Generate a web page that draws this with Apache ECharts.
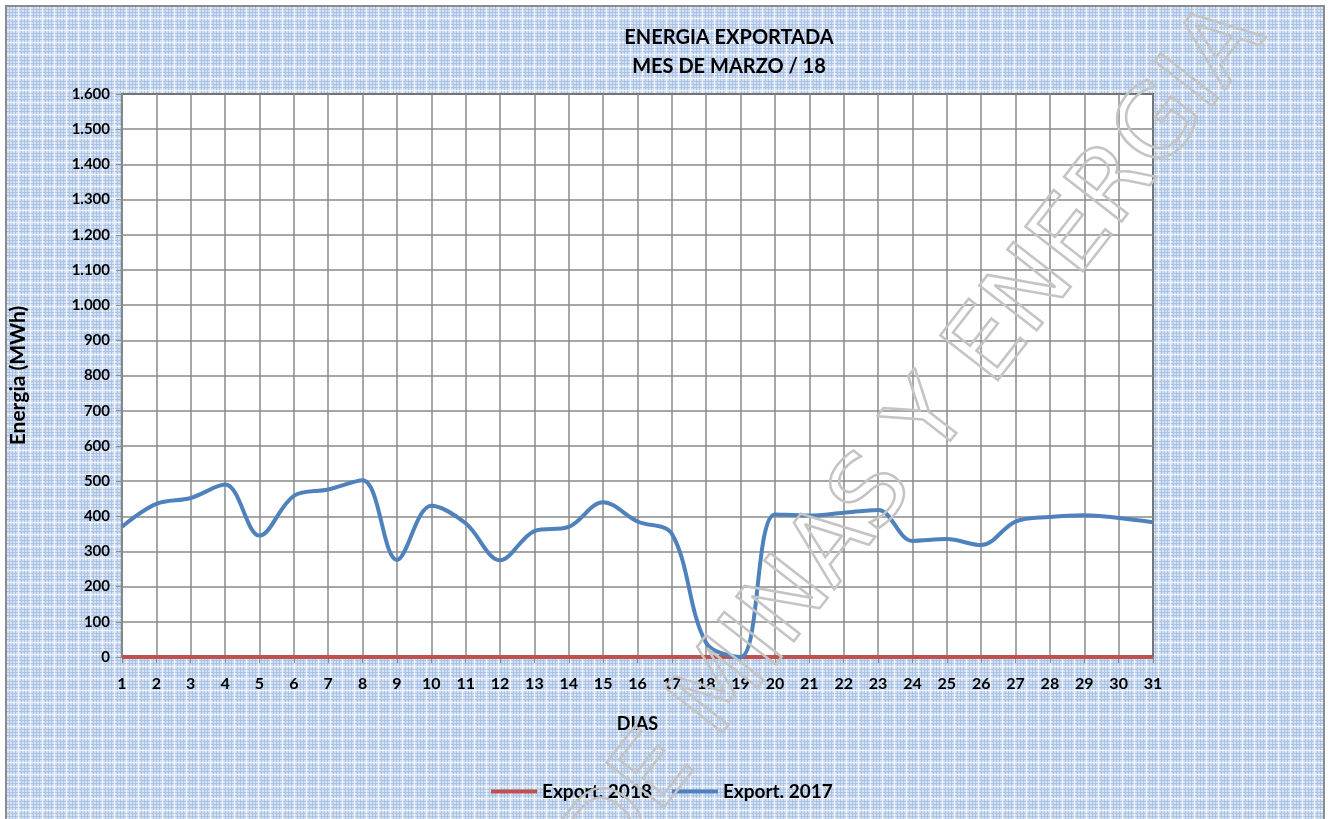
<!DOCTYPE html>
<html>
<head>
<meta charset="utf-8">
<script src="https://cdn.jsdelivr.net/npm/echarts@6/dist/echarts.min.js"></script>
<style>
html, body { margin: 0; padding: 0; background: #fff; }
#main { width: 1329px; height: 819px; }
</style>
</head>
<body>
<div id="main"></div>
<script>
var days = ['1','2','3','4','5','6','7','8','9','10','11','12','13','14','15','16','17','18','19','20','21','22','23','24','25','26','27','28','29','30','31'];
var export2018 = [0,0,0,0,0,0,0,0,0,0,0,0,0,0,0,0,0,0,0,0,0,0,0,0,0,0,0,0,0,0,0];
var export2017 = [370,435,452,490,345,458,476,502,276,430,380,275,358,370,440,385,350,40,0,405,402,410,418,330,335,318,385,398,403,395,383];

// fondo cuadriculado azul
var pat = document.createElement('canvas');
pat.width = 12; pat.height = 12;
var ctx = pat.getContext('2d');
ctx.fillStyle = '#d3e1f3';
ctx.fillRect(0, 0, 12, 12);
ctx.fillStyle = '#a9c2e5';
ctx.fillRect(0, 0, 1, 12); ctx.fillRect(0, 0, 12, 1);
ctx.fillRect(3, 0, 1, 12); ctx.fillRect(0, 3, 12, 1);
ctx.fillRect(9, 0, 1, 12); ctx.fillRect(0, 9, 12, 1);
ctx.fillStyle = '#f4f8fd';
ctx.fillRect(6, 0, 1, 12); ctx.fillRect(0, 6, 12, 1);
ctx.fillRect(1, 7, 1, 1); ctx.fillRect(7, 1, 1, 1); ctx.fillRect(10, 10, 1, 1);

var font = 'Lato, "Open Sans", sans-serif';

var myChart = echarts.init(document.getElementById('main'));
var option = {
    backgroundColor: '#fff',
    animation: false,
    title: {
        text: 'ENERGIA EXPORTADA\nMES DE MARZO / 18',
        left: 724,
        top: 18,
        textAlign: 'center',
        textStyle: {
            fontFamily: font,
            fontSize: 20,
            fontWeight: 'bold',
            color: '#000',
            lineHeight: 29
        }
    },
    legend: {
        top: 777,
        left: 486,
        itemWidth: 46,
        itemHeight: 4,
        itemGap: 20,
        icon: 'rect',
        textStyle: {
            fontFamily: font,
            fontSize: 19,
            fontWeight: 'bold',
            color: '#000'
        },
        data: ['Export. 2018', 'Export. 2017']
    },
    grid: {
        left: 122,
        right: 176,
        top: 94,
        bottom: 162,
        show: true,
        backgroundColor: '#fff',
        borderColor: '#000',
        borderWidth: 1.5
    },
    graphic: [
        {
            type: 'rect',
            z: -10,
            silent: true,
            shape: { x: 6, y: 6, width: 1318, height: 830 },
            style: { fill: { image: pat, repeat: 'repeat' }, stroke: '#8c8c8c', lineWidth: 2 }
        },
        {
            type: 'text',
            z: 100,
            silent: true,
            x: 918,
            y: 440,
            rotation: 52 * Math.PI / 180,
            style: {
                text: 'DE MINAS Y ENERGIA',
                font: '100px "DejaVu Sans", sans-serif',
                fill: 'rgba(0,0,0,0)',
                stroke: '#c4c4c4',
                lineWidth: 2.5,
                align: 'center',
                verticalAlign: 'middle'
            }
        }
    ],
    xAxis: {
        type: 'category',
        boundaryGap: false,
        data: days,
        name: 'DIAS',
        nameLocation: 'middle',
        nameGap: 58,
        nameTextStyle: { fontFamily: font, fontSize: 18, fontWeight: 'bold', color: '#000' },
        axisLine: { lineStyle: { color: '#8c8c8c', width: 1 } },
        axisTick: { show: true, length: 6, alignWithLabel: true, lineStyle: { color: '#8c8c8c' } },
        axisLabel: { fontFamily: font, fontSize: 16, fontWeight: 'bold', color: '#000', margin: 19 },
        splitLine: { show: true, lineStyle: { color: '#8a8a8a', width: 1.5 } }
    },
    yAxis: {
        type: 'value',
        min: 0,
        max: 1600,
        interval: 100,
        name: 'Energia (MWh)',
        nameLocation: 'middle',
        nameGap: 93,
        nameTextStyle: { fontFamily: font, fontSize: 21, fontWeight: 'bold', color: '#000' },
        axisLine: { show: true, lineStyle: { color: '#8c8c8c', width: 1.5 } },
        axisTick: { show: true, length: 6, lineStyle: { color: '#8c8c8c' } },
        axisLabel: {
            fontFamily: font, fontSize: 15, fontWeight: 'bold', color: '#000', margin: 12,
            formatter: function (v) {
                if (v >= 1000) {
                    return Math.floor(v / 1000) + '.' + String(v % 1000).padStart(3, '0');
                }
                return v;
            }
        },
        splitLine: { show: true, lineStyle: { color: '#8a8a8a', width: 1.5 } }
    },
    series: [
        {
            name: 'Export. 2018',
            type: 'line',
            data: export2018,
            symbol: 'none',
            color: '#c0504d',
            lineStyle: { width: 4, color: '#c0504d' },
            z: 3
        },
        {
            name: 'Export. 2017',
            type: 'line',
            data: export2017,
            symbol: 'none',
            smooth: 0.35,
            color: '#4f81bd',
            lineStyle: { width: 4, color: '#4f81bd' },
            z: 4
        }
    ]
};
myChart.setOption(option);
</script>
</body>
</html>
